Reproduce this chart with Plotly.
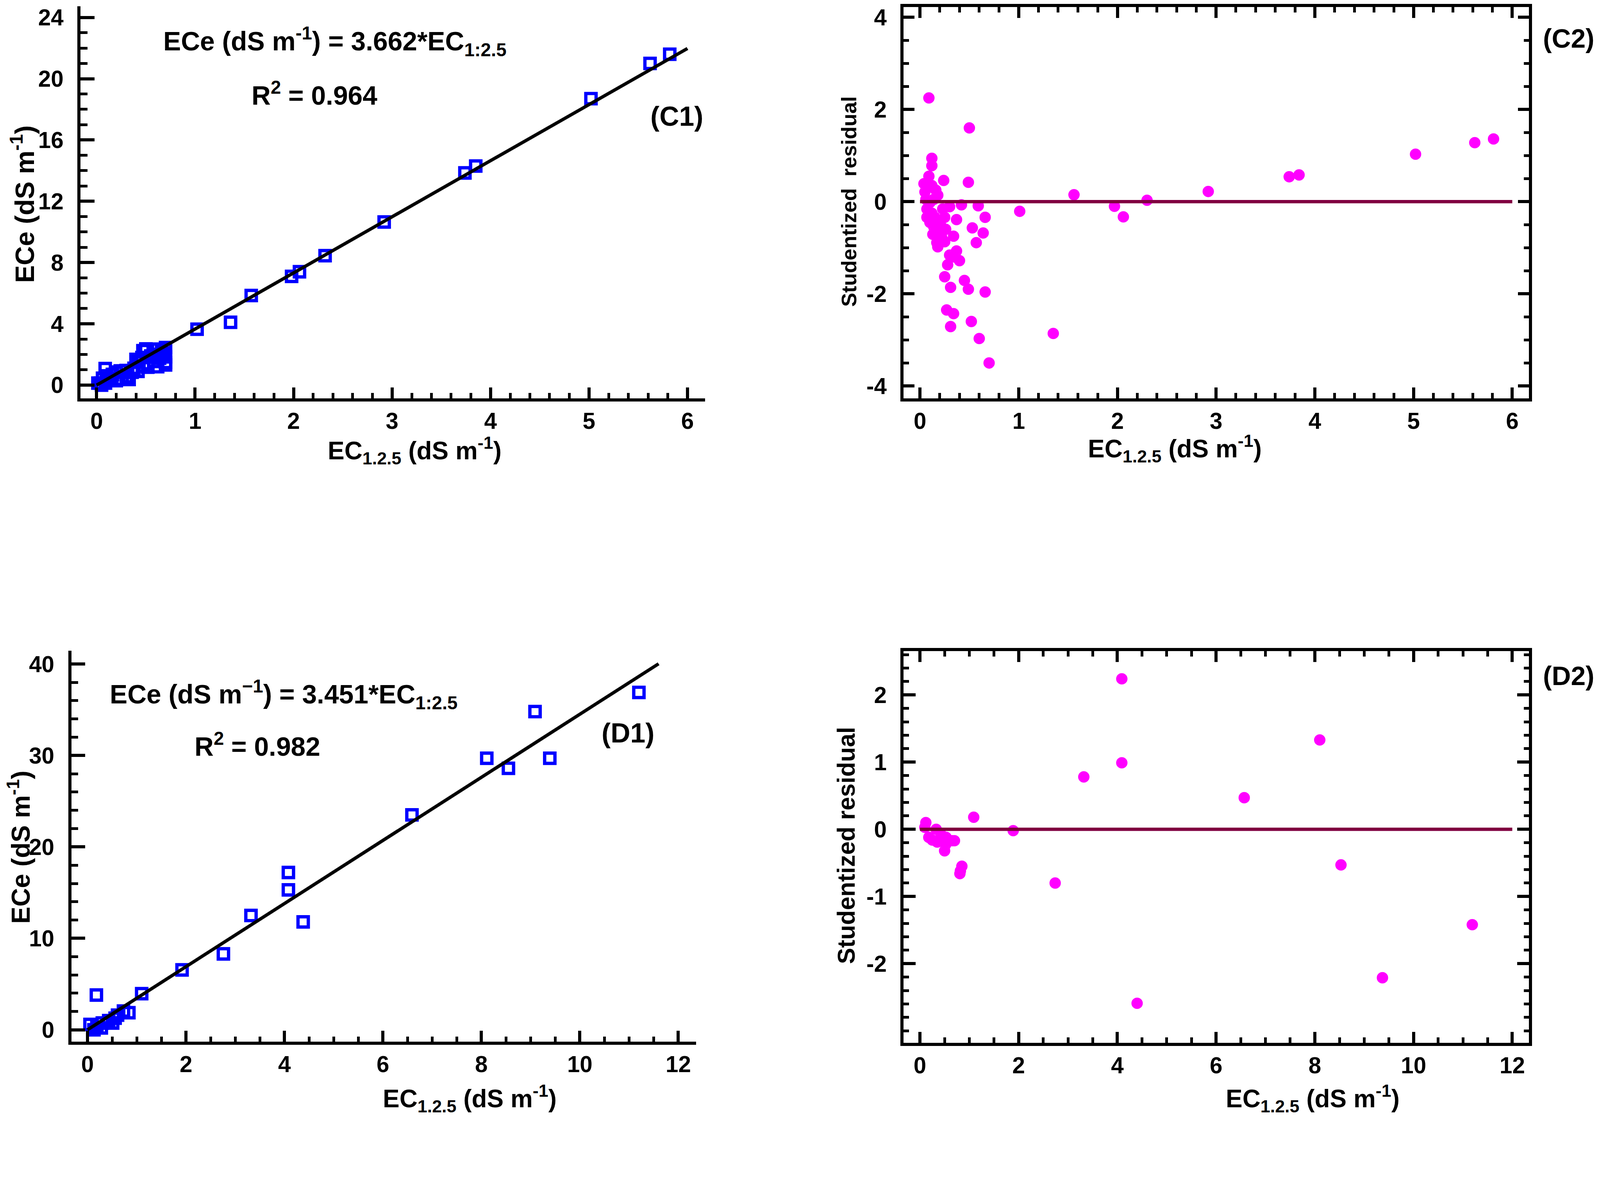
import plotly.graph_objects as go

# reference picture size
W, H = 4346, 3034

# ---------------- data ----------------
# (C1) ECe vs EC1:2.5
c1_x = [5.82, 5.62, 5.02, 3.85, 3.74, 2.92, 2.32, 2.06, 1.98, 1.57, 1.36, 1.02,
        0.70, 0.66, 0.62, 0.50, 0.47, 0.68, 0.70, 0.64, 0.70, 0.58, 0.46, 0.52,
        0.70, 0.62, 0.48, 0.40, 0.43, 0.52, 0.36, 0.24, 0.30, 0.20, 0.087, 0.14,
        0.20, 0.26, 0.33, 0.30, 0.06, 0.04, 0.013, 0.09, 0.05, 0.12, 0.10, 0.16,
        0.38, 0.42, 0.55, 0.64]
c1_y = [21.6, 21.0, 18.7, 14.3, 13.85, 10.65, 8.45, 7.4, 7.1, 5.85, 4.1, 3.65,
        2.45, 2.3, 2.35, 2.36, 2.25, 2.1, 1.85, 1.76, 1.48, 1.55, 1.8, 1.4,
        1.32, 1.2, 1.25, 1.68, 1.5, 1.17, 0.84, 0.93, 0.95, 0.85, 1.08, 0.45,
        0.29, 0.37, 0.37, 0.55, 0.45, 0.13, 0.13, 0.13, 0.0, 0.3, 0.6, 0.7,
        1.1, 0.9, 1.9, 2.0]
c1_slope = 3.662
c1_fit_x = [0.0, 6.0]

# (C2) studentized residuals
c2_x = [0.09, 0.50, 0.12, 0.12, 0.24, 0.49, 1.56, 2.30, 1.97, 2.06, 1.01, 1.35,
        0.70, 0.60, 0.52, 0.31, 0.34, 0.27, 0.66, 0.49, 0.45, 0.31, 0.25, 0.40,
        0.28, 0.37, 0.30, 0.34, 0.17, 0.13, 0.21, 0.57, 0.53, 0.64, 0.66, 0.59,
        0.42, 0.37, 0.30, 0.07, 0.07, 0.04, 0.05, 0.16, 0.18, 0.09, 0.23, 0.15,
        0.25, 0.10, 0.20, 0.18, 0.25, 0.06, 0.12, 0.14, 0.10, 0.14, 0.26, 0.12,
        0.22, 0.35, 2.92, 3.74, 3.84, 5.02, 5.62, 5.81]
c2_res = [2.25, 1.60, 0.94, 0.78, 0.46, 0.42, 0.15, 0.03, -0.10, -0.33, -0.21, -2.86,
          -3.50, -2.97, -2.60, -2.71, -2.43, -2.35, -1.96, -1.90, -1.71, -1.86, -1.63, -1.28,
          -1.37, -1.07, -1.16, -0.75, -0.89, -0.71, -0.52, -0.89, -0.57, -0.68, -0.34, -0.09,
          -0.07, -0.39, -0.11, -0.16, -0.34, 0.39, 0.21, 0.25, 0.14, 0.55, -0.16, -0.34,
          -0.34, -0.02, -0.66, -0.98, -0.87, 0.05, 0.35, 0.05, -0.45, -0.55, -0.60, -0.25,
          -0.78, -1.20, 0.22, 0.54, 0.58, 1.03, 1.28, 1.36]
c2_zero_x = [0.0, 6.0]

# (D1) ECe vs EC1:2.5
d1_x = [11.2, 9.09, 9.39, 8.11, 8.55, 6.59, 4.08, 4.08, 4.38, 3.32, 2.76, 1.92,
        1.10, 0.18, 0.84, 0.05, 0.13, 0.19, 0.28, 0.30, 0.43, 0.51, 0.56, 0.61, 0.73]
d1_y = [36.9, 34.8, 29.7, 29.7, 28.6, 23.5, 17.2, 15.3, 11.8, 12.5, 8.3, 6.55,
        3.95, 3.8, 1.87, 0.58, 0.0, 0.27, 0.2, 0.74, 1.0, 0.74, 1.27, 1.6, 2.05]
d1_slope = 3.451
d1_fit_x = [0.0, 11.6]

# (D2) studentized residuals
d2_x = [4.09, 4.09, 3.32, 6.57, 8.10, 8.53, 11.19, 9.37, 4.40, 2.74, 1.89, 1.09,
        0.82, 0.85, 0.12, 0.10, 0.33, 0.18, 0.25, 0.35, 0.50, 0.65, 0.53, 0.43,
        0.70, 0.52, 0.81]
d2_res = [2.24, 0.99, 0.78, 0.47, 1.33, -0.53, -1.42, -2.21, -2.59, -0.80, -0.02, 0.18,
          -0.62, -0.55, 0.10, 0.03, 0.0, -0.12, -0.16, -0.19, -0.32, -0.17, -0.12, -0.08,
          -0.17, -0.23, -0.66]
d2_zero_x = [0.0, 12.0]

# tick labels
c1_xticks = [0, 1, 2, 3, 4, 5, 6]
c1_yticks = [0, 4, 8, 12, 16, 20, 24]
c2_yticks = [4, 2, 0, -2, -4]
c2_yticktext = ["4", "2", "0", "-2", "-4"]
d_xticks = [0, 2, 4, 6, 8, 10, 12]
d1_yticks = [0, 10, 20, 30, 40]
d2_yticks = [2, 1, 0, -1, -2]
d2_yticktext = ["2", "1", "0", "-1", "-2"]

# ---------------- geometry helpers ----------------
# the page is photographed with a small zoom and an 8 px body margin;
# positions below are given in reference-picture pixels and converted.
K = 1 / 1.063
MARGIN = 8
WC = 4080
HC = 2850


def clamp(v):
    return max(0.0, min(1.0, v))


def sz(v):
    return v * K


def fx(p):
    return (p * K - MARGIN) / WC


def fy(p):
    return 1 - (p * K - MARGIN) / HC


def xd(left, right):
    return [clamp(fx(left)), clamp(fx(right))]


def yd(top, bottom):
    return [clamp(fy(bottom)), clamp(fy(top))]


FONT = "Liberation Sans Narrow, Arial Narrow, Liberation Sans, Arial, sans-serif"
WIDE = "Liberation Sans, Arial, sans-serif"
BLUE = "#0000ff"
MAGENTA = "#ff00ff"
MAROON = "#800040"


def axis(domain, rng, tickvals, ticktext, minor_dtick, anchor, mirror=False,
         ticklen=30, minorlen=15, standoff=0):
    return dict(
        domain=domain, range=rng, anchor=anchor,
        showline=True, linecolor="black", linewidth=sz(8),
        mirror="allticks" if mirror else False,
        ticks="inside", ticklen=sz(ticklen), tickwidth=sz(8), tickcolor="black",
        tickvals=tickvals, ticktext=ticktext,
        tickfont=dict(family=FONT, size=sz(62), color="black", weight="bold"),
        ticklabelstandoff=int(round(sz(standoff))),
        minor=dict(ticks="inside", ticklen=sz(minorlen), tickwidth=sz(7),
                   tickcolor="black", dtick=minor_dtick, showgrid=False),
        showgrid=False, zeroline=False,
    )


fig = go.Figure()

sq = dict(symbol="square-open", size=sz(28), color=BLUE, line=dict(width=sz(9), color=BLUE))
dot = dict(symbol="circle", size=sz(31), color=MAGENTA, line=dict(width=0))

# C1
fig.add_trace(go.Scatter(x=c1_x, y=c1_y, mode="markers", xaxis="x", yaxis="y", marker=sq))
fig.add_trace(go.Scatter(x=c1_fit_x, y=[c1_slope * v for v in c1_fit_x], mode="lines",
                         xaxis="x", yaxis="y", line=dict(color="black", width=sz(9))))
# C2
fig.add_trace(go.Scatter(x=c2_x, y=c2_res, mode="markers", xaxis="x2", yaxis="y2", marker=dot))
fig.add_trace(go.Scatter(x=c2_zero_x, y=[0, 0], mode="lines", xaxis="x2", yaxis="y2",
                         line=dict(color=MAROON, width=sz(9))))
# D1
fig.add_trace(go.Scatter(x=d1_x, y=d1_y, mode="markers", xaxis="x3", yaxis="y3", marker=sq))
fig.add_trace(go.Scatter(x=d1_fit_x, y=[d1_slope * v for v in d1_fit_x], mode="lines",
                         xaxis="x3", yaxis="y3", line=dict(color="black", width=sz(9))))
# D2
fig.add_trace(go.Scatter(x=d2_x, y=d2_res, mode="markers", xaxis="x4", yaxis="y4", marker=dot))
fig.add_trace(go.Scatter(x=d2_zero_x, y=[0, 0], mode="lines", xaxis="x4", yaxis="y4",
                         line=dict(color=MAROON, width=sz(9))))

YS = 26  # y tick label standoff
layout = dict(
    width=WC, height=HC, margin=dict(l=0, r=0, t=0, b=0),
    paper_bgcolor="white", plot_bgcolor="white", showlegend=False,
    xaxis=axis(xd(219, 1919), [-0.164, 6.18], c1_xticks, [str(v) for v in c1_xticks], 0.2, "y"),
    yaxis=axis(yd(10, 1080), [-0.87, 24.72], c1_yticks, [str(v) for v in c1_yticks], 1, "x",
               ticklen=38, minorlen=19, standoff=YS),
    xaxis2=axis(xd(2459, 4161), [-0.166, 6.17], c1_xticks, [str(v) for v in c1_xticks], 0.2, "y2",
                mirror=True),
    yaxis2=axis(yd(12, 1080), [-4.27, 4.22], c2_yticks, c2_yticktext, 0.5, "x2", mirror=True,
                standoff=YS),
    xaxis3=axis(xd(194, 1894), [-0.33, 12.36], d_xticks, [str(v) for v in d_xticks], 0.5, "y3"),
    yaxis3=axis(yd(1768, 2836), [-1.32, 41.48], d1_yticks, [str(v) for v in d1_yticks], 2, "x3",
                ticklen=38, minorlen=19, standoff=YS),
    xaxis4=axis(xd(2459, 4161), [-0.33, 12.34], d_xticks, [str(v) for v in d_xticks], 0.5, "y4",
                mirror=True),
    yaxis4=axis(yd(1770, 2839), [-3.18, 2.65], d2_yticks, d2_yticktext, 0.2, "x4", mirror=True,
                ticklen=33, minorlen=15, standoff=YS),
)


def ann(text, px, py, size, family=FONT, angle=0, xanchor="center"):
    return dict(text=text, x=fx(px), y=fy(py), xref="paper", yref="paper",
                xanchor=xanchor, yanchor="middle", showarrow=False, textangle=angle,
                font=dict(family=family, size=sz(size), color="black", weight="bold"))


unit = "(dS m<sup>-1</sup>)"
xtitle = "EC<sub>1.2.5</sub> " + unit
layout["annotations"] = [
    # C1
    ann("ECe " + unit, 62, 550, 72, angle=-90),
    ann(xtitle, 1128, 1222, 68),
    ann("ECe (dS m<sup>-1</sup>) = 3.662*EC<sub>1:2.5</sub>", 912, 105, 72),
    ann("R<sup>2</sup> = 0.964", 856, 248, 72),
    ann("(C1)", 1842, 310, 74),
    # C2
    ann("Studentized  residual", 2310, 543, 57, family=WIDE, angle=-90),
    ann(xtitle, 3197, 1216, 68),
    ann("(C2)", 4341, 98, 72, xanchor="right"),
    # D1
    ann("ECe " + unit, 52, 2305, 70, angle=-90),
    ann(xtitle, 1278, 2990, 68),
    ann("ECe (dS m<sup>\u22121</sup>) = 3.451*EC<sub>1:2.5</sub>", 772, 1888, 72),
    ann("R<sup>2</sup> = 0.982", 700, 2025, 72),
    ann("(D1)", 1709, 1993, 74),
    # D2
    ann("Studentized residual", 2303, 2300, 66, family=WIDE, angle=-90),
    ann(xtitle, 3572, 2990, 68),
    ann("(D2)", 4341, 1837, 72, xanchor="right"),
]

fig.update_layout(**layout)
fig.write_html("out.html")
